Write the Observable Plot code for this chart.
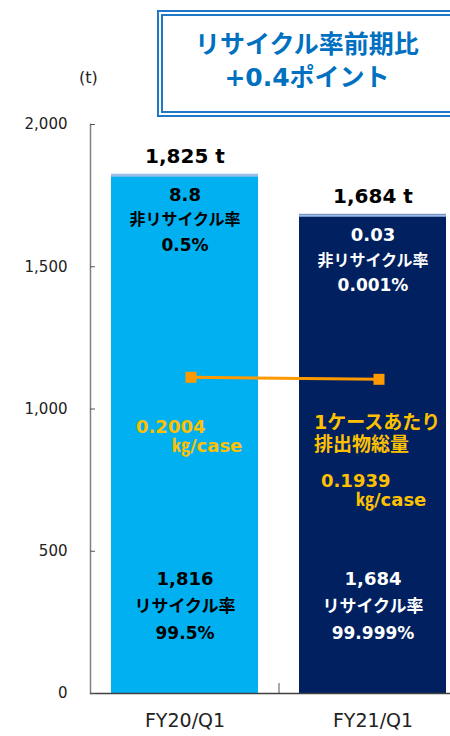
<!DOCTYPE html>
<html><head><meta charset="utf-8">
<script src="https://cdn.jsdelivr.net/npm/d3@7"></script>
<script src="https://cdn.jsdelivr.net/npm/@observablehq/plot@0.6"></script>
<style>
html,body{margin:0;padding:0;overflow:hidden;background:#fff;width:450px;height:736px}
#wrap{position:relative;width:450px;height:736px;overflow:hidden;font-family:"DejaVu Sans","Noto Sans CJK JP",sans-serif}
#box{position:absolute;left:157px;top:10px;width:288px;height:95px;border:6px double #1f77c8;background:#fff;color:#0070c0;font-weight:bold;font-size:25px;text-align:center;line-height:33px;box-sizing:content-box}
#box div:first-child{margin-top:12px}
#unit{position:absolute;left:79px;top:68px;font-size:16px;color:#222}
#chart{position:absolute;left:0;top:0;width:466px}
#chart svg{max-width:none !important;width:466px;height:736px}
</style></head>
<body><div id="wrap"><div id="chart"></div><div id="unit">(t)</div>
<div id="box"><div>リサイクル率前期比</div><div>+0.4ポイント</div></div></div>
<script>
const categories = ["FY20/Q1", "FY21/Q1"];
const recycled = [1816, 1684];
const nonRecycled = [8.8, 0.03];
const nonRecycledLabel = ["8.8", "0.03"];
const totals = [1825, 1684];
const recycleRate = ["99.5%", "99.999%"];
const nonRecycleRate = ["0.5%", "0.001%"];
const kgPerCase = [0.2004, 0.1939];
const kgLabel = ["0.2004", "0.1939"];
const yTicks = [0, 500, 1000, 1500, 2000];
const barColors = ["#00b0f0", "#002060"];
const textColors = ["#000000", "#ffffff"];

const fmt = d3.format(",");
// secondary (kg/case) axis mapped onto the tonnage axis
const kgToT = d3.scaleLinear().domain([-0.8, 1.0]).range([0, 2000]);

const rows = categories.map((c, i) => ({
  cat: c, recycled: recycled[i], non: nonRecycled[i], total: totals[i],
  color: barColors[i], tcolor: textColors[i], kg: kgPerCase[i], kgText: kgLabel[i],
  nonText: nonRecycledLabel[i], rate: recycleRate[i], nonRate: nonRecycleRate[i]
}));
const segs = rows.flatMap(r => [
  {cat: r.cat, v: r.recycled, color: r.color},
  {cat: r.cat, v: r.non, color: r.color}
]);
const first = [rows[0]], second = [rows[1]];
const gold = "#ffc000";
const W = 466, ML = 90, pI = 0.22, pO = 0.11;
const step = (W - ML) / (categories.length - pI + 2 * pO);

const chart = Plot.plot({
  width: W, height: 736,
  marginLeft: ML, marginRight: 0, marginTop: 124, marginBottom: 43,
  style: {fontFamily: '"DejaVu Sans","Noto Sans CJK JP",sans-serif', background: "transparent", maxWidth: "none"},
  x: {type: "band", domain: categories, paddingInner: pI, paddingOuter: pO, label: null},
  y: {domain: [0, 2000], label: null},
  marks: [
    Plot.barY(segs, {x: "cat", y: "v", fill: "color"}),
    Plot.tickY(rows, {x: "cat", y: "total", stroke: "#9dbbe6", strokeWidth: 2.5, dy: 1}),
    Plot.frame({anchor: "left", stroke: "#808080", strokeWidth: 1.5}),
    Plot.ruleY([0], {stroke: "#404040", strokeWidth: 1.5}),
    Plot.ruleX([categories[1]], {x: d => d, y1: 0, y2: 35, dx: -step / 2, stroke: "#555"}),
    Plot.axisY({ticks: yTicks, tickSize: 5, dx: 5, tickFormat: () => "", stroke: "#555", label: null}),
    Plot.axisY({ticks: yTicks, tickSize: 0, tickPadding: 23, tickFormat: fmt, fontSize: 15, fill: "#222", label: null}),
    Plot.axisX({tickSize: 0, tickPadding: 20, fontSize: 19, fill: "#222", label: null}),
    // totals
    Plot.text(rows, {x: "cat", y: "total", text: d => fmt(d.total) + " t", dy: -18, fontSize: 20, fontWeight: "bold", fill: "#000"}),
    // non-recycled labels
    Plot.text(rows, {x: "cat", y: "total", text: "nonText", dy: 21, fontSize: 18, fontWeight: "bold", fill: "tcolor"}),
    Plot.text(rows, {x: "cat", y: "total", text: () => "非リサイクル率", dy: 46, fontSize: 16, fontWeight: "bold", fill: "tcolor"}),
    Plot.text(rows, {x: "cat", y: "total", text: "nonRate", dy: 71, fontSize: 17, fontWeight: "bold", fill: "tcolor"}),
    // recycled labels
    Plot.text(rows, {x: "cat", y: 0, text: d => fmt(d.recycled), dy: -114, fontSize: 18, fontWeight: "bold", fill: "tcolor"}),
    Plot.text(rows, {x: "cat", y: 0, text: () => "リサイクル率", dy: -87, fontSize: 17, fontWeight: "bold", fill: "tcolor"}),
    Plot.text(rows, {x: "cat", y: 0, text: "rate", dy: -60, fontSize: 17, fontWeight: "bold", fill: "tcolor"}),
    // kg/case line
    Plot.line(rows, {x: "cat", y: d => kgToT(d.kg), stroke: "#ff9900", strokeWidth: 3, dx: 6}),
    Plot.dot(rows, {x: "cat", y: d => kgToT(d.kg), symbol: "square", r: 6.2, fill: "#ff9900", dx: 6}),
    Plot.text(first, {x: "cat", y: d => kgToT(d.kg), text: "kgText", dx: -49, dy: 50, textAnchor: "start", fontSize: 18, fontWeight: "bold", fill: gold}),
    Plot.text(first, {x: "cat", y: d => kgToT(d.kg), text: () => "㎏/case", dx: -13, dy: 69, textAnchor: "start", fontSize: 18, fontWeight: "bold", fill: gold}),
    Plot.text(second, {x: "cat", y: d => kgToT(d.kg), text: () => "1ケースあたり", dx: -59, dy: 44, textAnchor: "start", fontSize: 19, fontWeight: "bold", fill: gold}),
    Plot.text(second, {x: "cat", y: d => kgToT(d.kg), text: () => "排出物総量", dx: -59, dy: 66, textAnchor: "start", fontSize: 19, fontWeight: "bold", fill: gold}),
    Plot.text(second, {x: "cat", y: d => kgToT(d.kg), text: "kgText", dx: -52, dy: 102, textAnchor: "start", fontSize: 18, fontWeight: "bold", fill: gold}),
    Plot.text(second, {x: "cat", y: d => kgToT(d.kg), text: () => "㎏/case", dx: -17, dy: 121, textAnchor: "start", fontSize: 18, fontWeight: "bold", fill: gold})
  ]
});
chart.style.maxWidth = "none";
document.getElementById("chart").appendChild(chart);
</script></body></html>
